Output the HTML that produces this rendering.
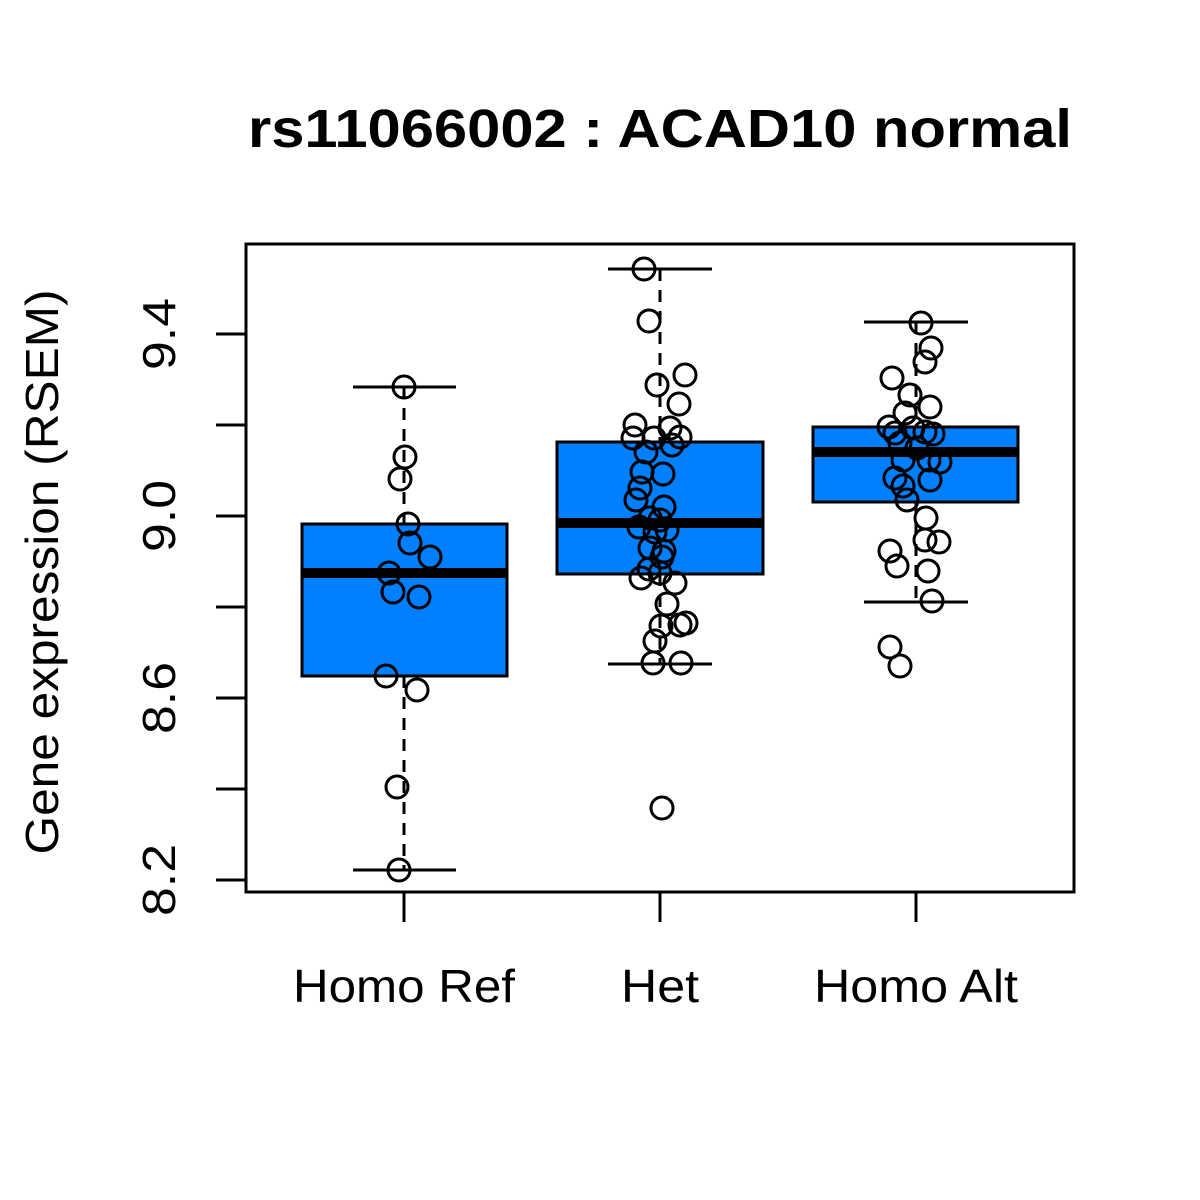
<!DOCTYPE html>
<html><head><style>body{margin:0;background:#fff}svg{display:block}</style></head>
<body>
<svg width="1200" height="1200" xmlns="http://www.w3.org/2000/svg" font-family="Liberation Sans, sans-serif">
<rect width="1200" height="1200" fill="#fff"/>
<text x="660" y="147" font-size="54" font-weight="bold" text-anchor="middle" textLength="824" lengthAdjust="spacingAndGlyphs">rs11066002 : ACAD10 normal</text>
<g stroke="#000" stroke-width="3" fill="none">
<g stroke-dasharray="12,9">
<line x1="404" y1="387" x2="404" y2="524"/><line x1="404" y1="676" x2="404" y2="870"/>
<line x1="660" y1="269" x2="660" y2="442"/><line x1="660" y1="574" x2="660" y2="664"/>
<line x1="916" y1="322" x2="916" y2="427"/><line x1="916" y1="502" x2="916" y2="602"/>
</g>
<line x1="353" y1="387" x2="456" y2="387"/><line x1="353" y1="870" x2="456" y2="870"/>
<line x1="608" y1="269" x2="712" y2="269"/><line x1="608" y1="664" x2="712" y2="664"/>
<line x1="864" y1="322" x2="968" y2="322"/><line x1="864" y1="602" x2="968" y2="602"/>
<rect x="302" y="524" width="205" height="152" fill="#0080FF"/>
<rect x="557" y="442" width="206" height="132" fill="#0080FF"/>
<rect x="813" y="427" width="205" height="75" fill="#0080FF"/>
</g>
<g stroke="#000" stroke-width="10">
<line x1="302" y1="573" x2="507" y2="573"/>
<line x1="557" y1="523" x2="763" y2="523"/>
<line x1="813" y1="452" x2="1018" y2="452"/>
</g>
<g stroke="#000" stroke-width="3" fill="none">
<rect x="246" y="244" width="828" height="648"/>
<line x1="216" y1="880" x2="246" y2="880"/><line x1="216" y1="789" x2="246" y2="789"/>
<line x1="216" y1="698" x2="246" y2="698"/><line x1="216" y1="607" x2="246" y2="607"/>
<line x1="216" y1="516" x2="246" y2="516"/><line x1="216" y1="425" x2="246" y2="425"/>
<line x1="216" y1="334" x2="246" y2="334"/>
<line x1="404" y1="892" x2="404" y2="922"/><line x1="660" y1="892" x2="660" y2="922"/><line x1="916" y1="892" x2="916" y2="922"/>
</g>
<g stroke="#000" stroke-width="3" fill="none">
<circle cx="404" cy="387" r="11"/><circle cx="405" cy="457" r="11"/><circle cx="400" cy="479" r="11"/><circle cx="408" cy="524" r="11"/><circle cx="410" cy="543" r="11"/><circle cx="430" cy="557" r="11"/><circle cx="389" cy="573" r="11"/><circle cx="393" cy="592" r="11"/><circle cx="419" cy="597" r="11"/><circle cx="386" cy="676" r="11"/><circle cx="417" cy="690" r="11"/><circle cx="397" cy="787" r="11"/><circle cx="399" cy="870" r="11"/>
<circle cx="644" cy="269" r="11"/><circle cx="649" cy="321" r="11"/><circle cx="685" cy="375" r="11"/><circle cx="657" cy="385" r="11"/><circle cx="679" cy="404" r="11"/><circle cx="635" cy="425" r="11"/><circle cx="670" cy="428" r="11"/><circle cx="633" cy="438" r="11"/><circle cx="654" cy="438" r="11"/><circle cx="680" cy="437" r="11"/><circle cx="672" cy="445" r="11"/><circle cx="646" cy="452" r="11"/><circle cx="642" cy="472" r="11"/><circle cx="663" cy="474" r="11"/><circle cx="640" cy="488" r="11"/><circle cx="636" cy="500" r="11"/><circle cx="664" cy="507" r="11"/><circle cx="650" cy="518" r="11"/><circle cx="660" cy="520" r="11"/><circle cx="639" cy="527" r="11"/><circle cx="667" cy="530" r="11"/><circle cx="655" cy="532" r="11"/><circle cx="650" cy="548" r="11"/><circle cx="664" cy="551" r="11"/><circle cx="662" cy="557" r="11"/><circle cx="649" cy="569" r="11"/><circle cx="660" cy="573" r="11"/><circle cx="641" cy="578" r="11"/><circle cx="675" cy="583" r="11"/><circle cx="667" cy="604" r="11"/><circle cx="661" cy="626" r="11"/><circle cx="686" cy="623" r="11"/><circle cx="680" cy="625" r="11"/><circle cx="655" cy="641" r="11"/><circle cx="653" cy="663" r="11"/><circle cx="681" cy="663" r="11"/><circle cx="662" cy="808" r="11"/>
<circle cx="921" cy="323" r="11"/><circle cx="931" cy="348" r="11"/><circle cx="925" cy="362" r="11"/><circle cx="892" cy="378" r="11"/><circle cx="910" cy="395" r="11"/><circle cx="930" cy="407" r="11"/><circle cx="905" cy="413" r="11"/><circle cx="889" cy="427" r="11"/><circle cx="913" cy="428" r="11"/><circle cx="895" cy="433" r="11"/><circle cx="925" cy="432" r="11"/><circle cx="933" cy="434" r="11"/><circle cx="900" cy="443" r="11"/><circle cx="917" cy="448" r="11"/><circle cx="940" cy="462" r="11"/><circle cx="903" cy="460" r="11"/><circle cx="929" cy="460" r="11"/><circle cx="895" cy="478" r="11"/><circle cx="930" cy="480" r="11"/><circle cx="903" cy="486" r="11"/><circle cx="907" cy="500" r="11"/><circle cx="926" cy="518" r="11"/><circle cx="890" cy="551" r="11"/><circle cx="925" cy="540" r="11"/><circle cx="939" cy="542" r="11"/><circle cx="897" cy="566" r="11"/><circle cx="928" cy="571" r="11"/><circle cx="932" cy="601" r="11"/><circle cx="890" cy="647" r="11"/><circle cx="900" cy="666" r="11"/>
</g>
<g font-size="46" text-anchor="middle">
<text transform="translate(175,880) rotate(-90)" textLength="72" lengthAdjust="spacingAndGlyphs">8.2</text>
<text transform="translate(175,698) rotate(-90)" textLength="72" lengthAdjust="spacingAndGlyphs">8.6</text>
<text transform="translate(175,516) rotate(-90)" textLength="72" lengthAdjust="spacingAndGlyphs">9.0</text>
<text transform="translate(175,334) rotate(-90)" textLength="72" lengthAdjust="spacingAndGlyphs">9.4</text>
<text transform="translate(58,572) rotate(-90)" textLength="565" lengthAdjust="spacingAndGlyphs">Gene expression (RSEM)</text>
<text x="404" y="1002" textLength="222" lengthAdjust="spacingAndGlyphs">Homo Ref</text>
<text x="660" y="1002" textLength="78" lengthAdjust="spacingAndGlyphs">Het</text>
<text x="916" y="1002" textLength="204" lengthAdjust="spacingAndGlyphs">Homo Alt</text>
</g>
</svg>
</body></html>
